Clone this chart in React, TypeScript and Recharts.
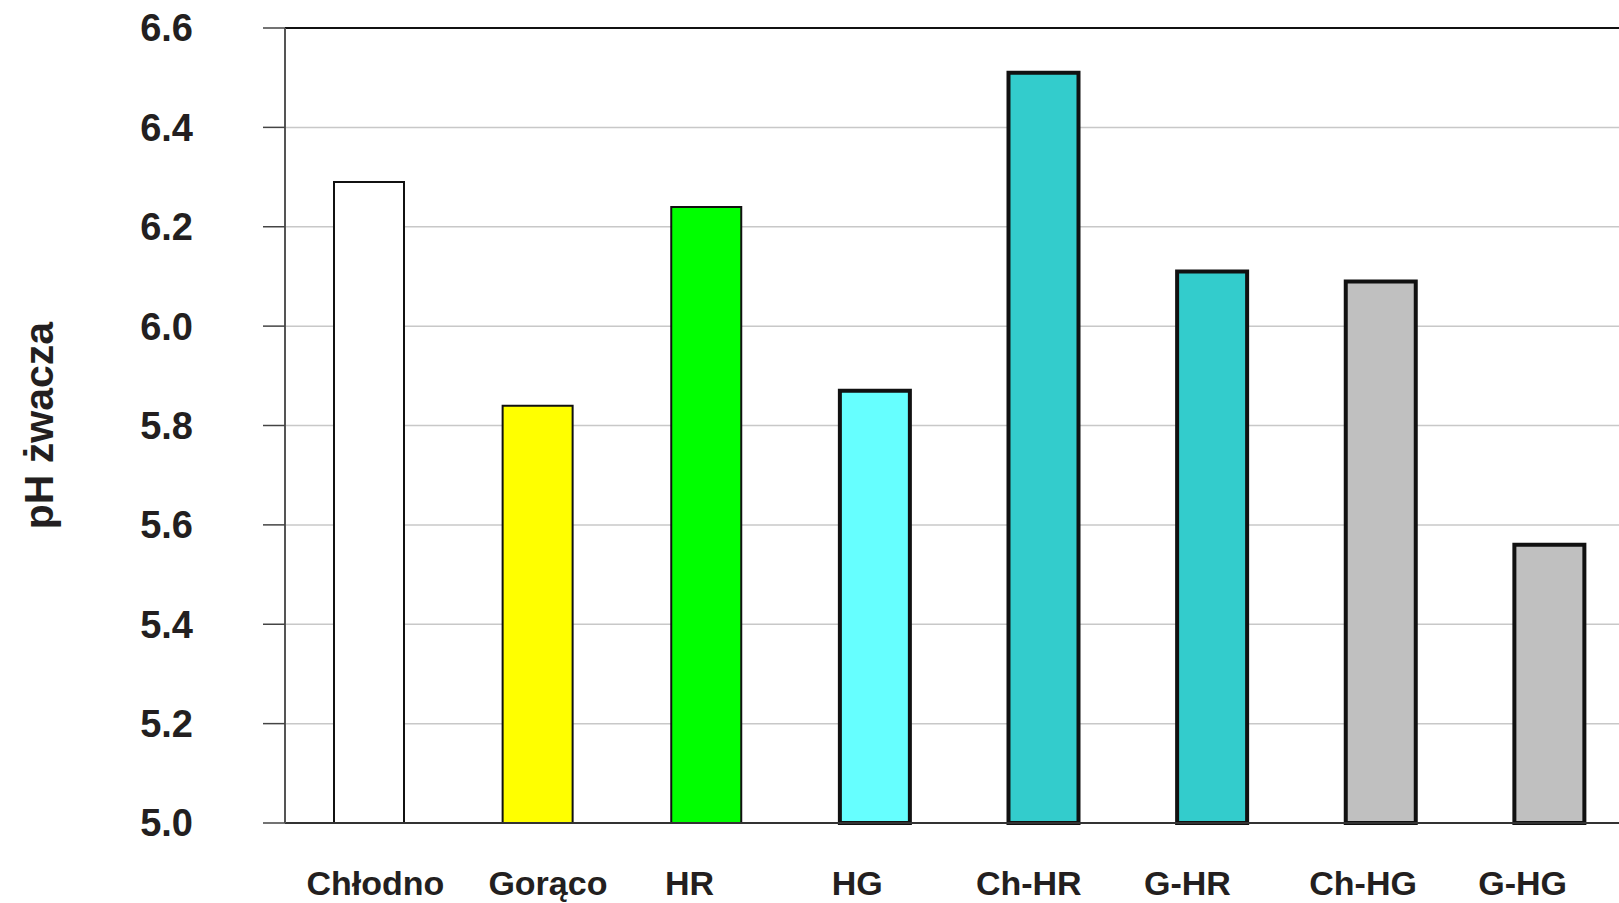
import { BarChart, Bar, Cell, XAxis, YAxis, CartesianGrid, ReferenceLine } from 'recharts';

const categories = ['Chłodno', 'Gorąco', 'HR', 'HG', 'Ch-HR', 'G-HR', 'Ch-HG', 'G-HG'];
const phValues = [6.29, 5.84, 6.24, 5.87, 6.51, 6.11, 6.09, 5.56];
const yTicks = [5.0, 5.2, 5.4, 5.6, 5.8, 6.0, 6.2, 6.4, 6.6];

const FILLS = ['#FFFFFF', '#FFFF00', '#00FF00', '#66FFFF', '#33CCCC', '#33CCCC', '#C0C0C0', '#C0C0C0'];
const STROKE_WIDTHS = [2, 2, 2, 4, 4, 4, 4, 4];
// horizontal nudge of category labels, as in the original figure
const LABEL_NUDGE = [6, 10, -17, -18, -15, -25, -18, -27];

const FONT = '"Liberation Sans", Arial, sans-serif';

const chartData = categories.map((name, i) => ({ name, value: phValues[i] }));

const CategoryTick = ({ x, y, payload, index }: any) => (
    <text
        x={x + (LABEL_NUDGE[index] ?? 0)}
        y={y + 72}
        textAnchor="middle"
        fontFamily={FONT}
        fontWeight="bold"
        fontSize={34}
        fill="#231f20"
    >
        {payload.value}
    </text>
);

export default function App() {
    return (
        <div style={{ position: 'fixed', left: 0, top: 0, width: 1619, height: 903, overflow: 'hidden', background: '#fff' }}>
            <BarChart
                width={1640}
                height={903}
                data={chartData}
                margin={{ top: 28, right: 6, bottom: 0, left: 0 }}
            >
                <CartesianGrid vertical={false} stroke="#c8c8c8" strokeWidth={1.5} />
                <XAxis
                    dataKey="name"
                    height={80}
                    tickLine={false}
                    tickSize={0}
                    tickMargin={0}
                    axisLine={{ stroke: '#333', strokeWidth: 2 }}
                    tick={<CategoryTick />}
                    interval={0}
                />
                <YAxis
                    width={285}
                    domain={[5.0, 6.6]}
                    ticks={yTicks}
                    tickFormatter={(v: number) => v.toFixed(1)}
                    tickSize={22}
                    tickMargin={70}
                    tickLine={{ stroke: '#444', strokeWidth: 1.5 }}
                    axisLine={{ stroke: '#555', strokeWidth: 2 }}
                    tick={{ fontFamily: FONT, fontWeight: 'bold', fontSize: 38, fill: '#231f20' }}
                    label={{
                        value: 'pH żwacza',
                        angle: -90,
                        position: 'insideLeft',
                        offset: 38,
                        style: { fontFamily: FONT, fontWeight: 'bold', fontSize: 41, fill: '#231f20', textAnchor: 'middle' },
                    }}
                />
                <ReferenceLine y={6.6} stroke="#111" strokeWidth={2} />
                <Bar dataKey="value" barSize={70} isAnimationActive={false}>
                    {chartData.map((entry, index) => (
                        <Cell
                            key={`cell-${index}`}
                            fill={FILLS[index]}
                            stroke="#111"
                            strokeWidth={STROKE_WIDTHS[index]}
                        />
                    ))}
                </Bar>
            </BarChart>
        </div>
    );
}
